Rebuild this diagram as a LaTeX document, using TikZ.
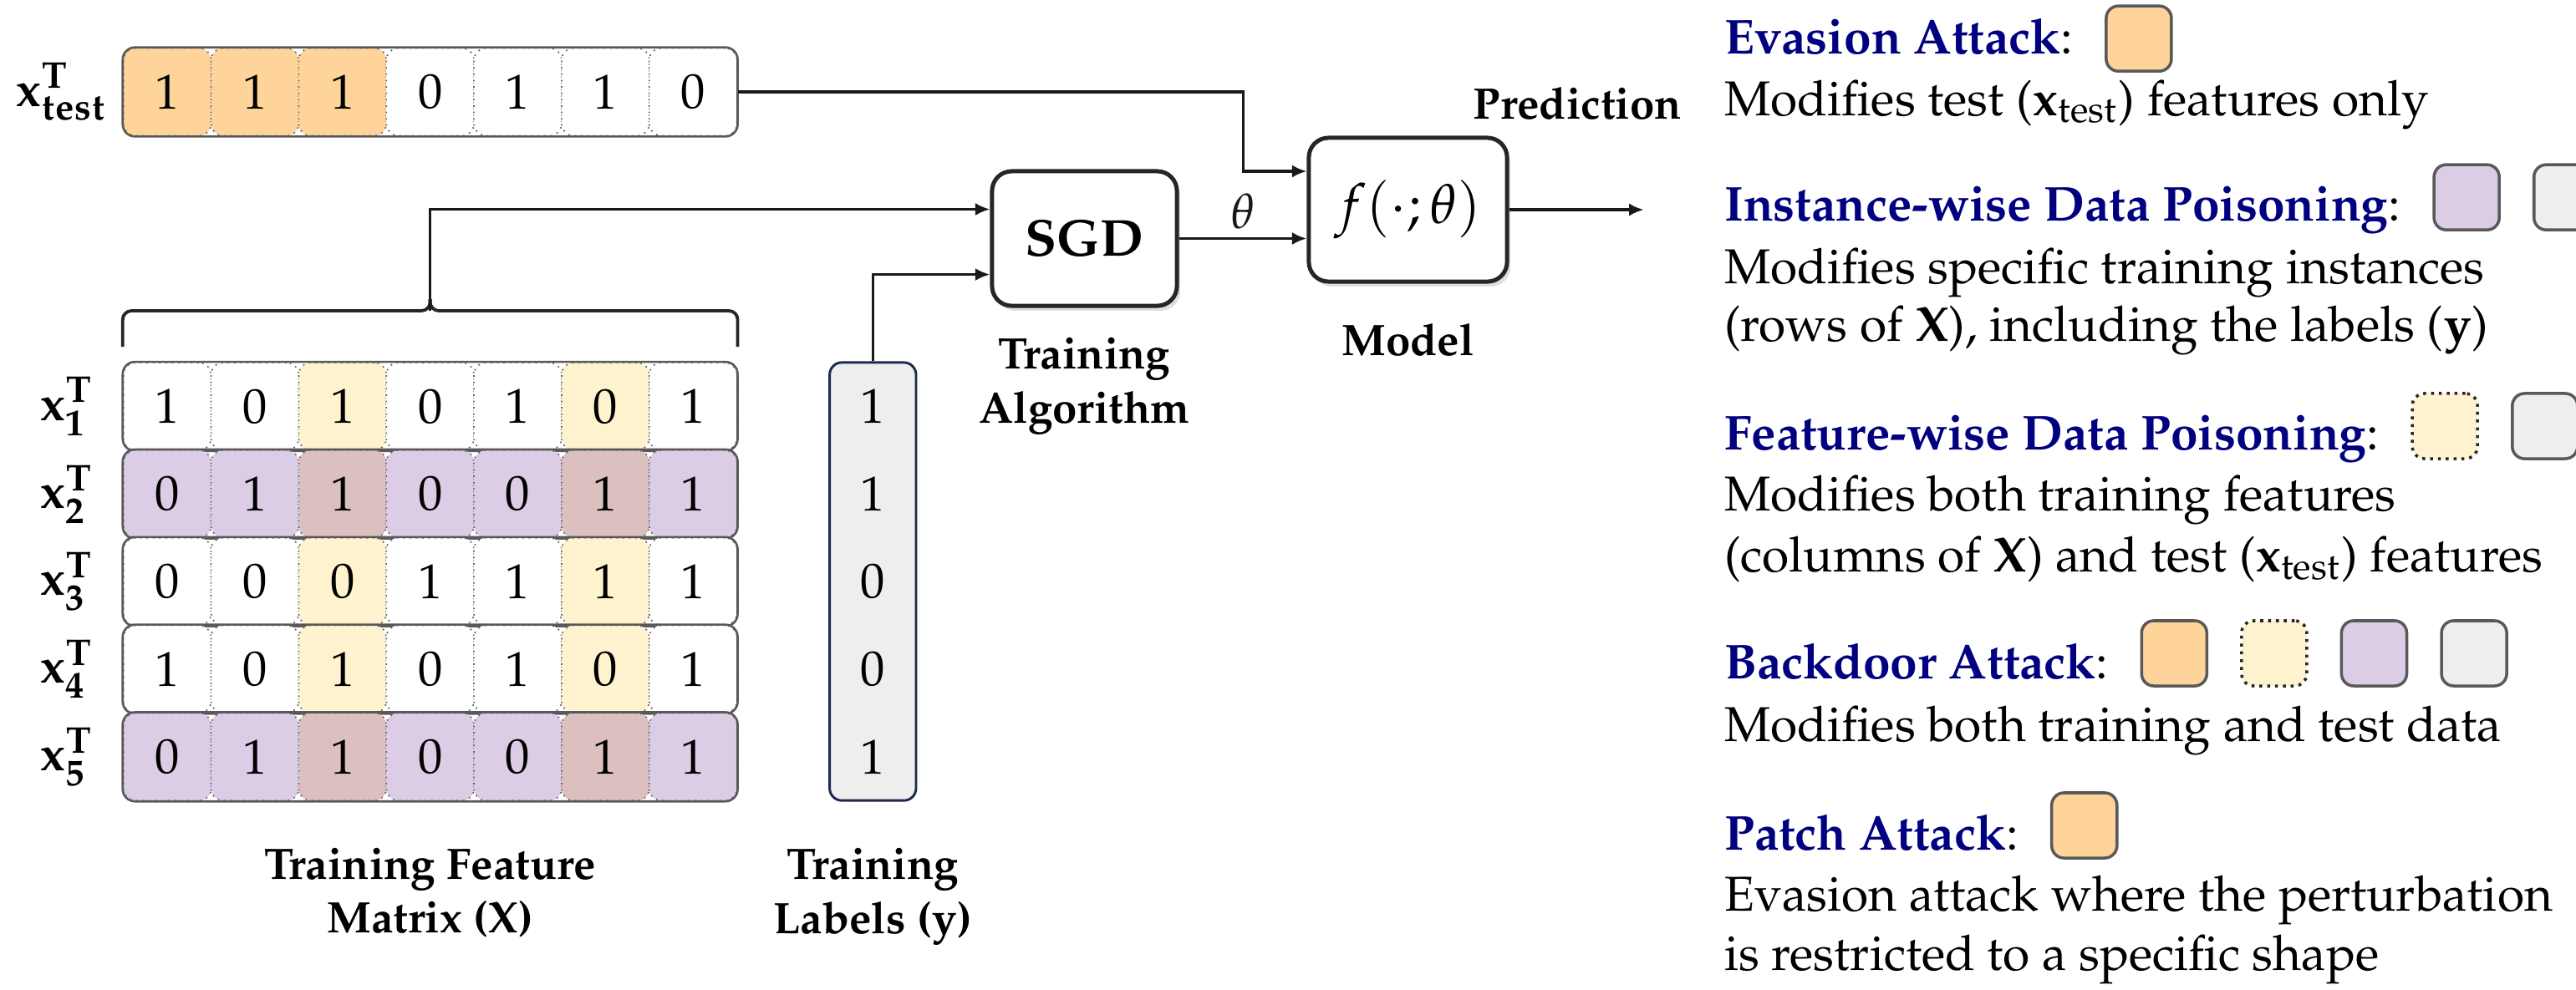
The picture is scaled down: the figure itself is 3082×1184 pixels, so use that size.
\documentclass[tikz,border=0pt]{standalone}
\usepackage[T1]{fontenc}
\usepackage{mathpazo}
\usepackage{tikz}
\definecolor{navyhead}{RGB}{0,0,128}
\definecolor{evorange}{RGB}{255,212,155}
\definecolor{featyellow}{RGB}{255,242,206}
\definecolor{instpurple}{RGB}{219,205,230}
\definecolor{mixbrown}{RGB}{220,192,192}
\definecolor{labgray}{RGB}{238,238,238}
\definecolor{labedge}{RGB}{30,40,80}
\usetikzlibrary{positioning,arrows.meta,shadows}
\newcommand{\atkname}[1]{\textcolor{navyhead}{\textbf{#1}}:}

\begin{document}
\begin{tikzpicture}[
  x=0.006cm, y=-0.006cm,
  cell/.style={draw=black!60, densely dotted, line width=0.3pt, rounded corners=2.5pt, minimum size=0.629cm, inner sep=0pt},
  rowline/.style={draw=black!65, line width=0.45pt, rounded corners=2.5pt},
  block/.style={draw=black!85, line width=0.85pt, rounded corners=4pt, fill=white, drop shadow={opacity=0.25, shadow xshift=0.7pt, shadow yshift=-1pt}},
  lbl/.style={font=\small\bfseries, align=center, inner sep=0pt},
  rowlbl/.style={inner sep=0pt, font=\boldmath},
  arr/.style={-{Latex[length=3pt,width=2.6pt]}, line width=0.6pt, black!90},
  bracel/.style={line width=0.65pt, black!85, rounded corners=1.8pt},
  desc/.style={anchor=base west, inner sep=0pt},
  swatch/.style={draw=black!65, line width=0.6pt, rounded corners=2.5pt, minimum size=0.468cm, inner sep=0pt},
  dotswatch/.style={swatch, draw=black!85, densely dotted, fill=featyellow}
]
\useasboundingbox (0,0) rectangle (3082,1184);

\foreach \v [count=\c] in {1,1,1,0,1,1,0} {
  \pgfmathsetmacro\cx{147.7+(\c-0.5)*104.85}
  \ifnum\c<4 \def\cf{evorange}\else\def\cf{white}\fi
  \node[cell, fill=\cf] (test-\c) at (\cx,110) {\v};
}
\draw[rowline] (test-1.north west) rectangle (test-7.south east);
\node[rowlbl, left=0.1cm of test-1] (xtest) {$\mathbf{x}^{\mathbf{T}}_{\mathbf{test}}$};

\foreach \row [count=\r] in {{1,0,1,0,1,0,1},{0,1,1,0,0,1,1},{0,0,0,1,1,1,1},{1,0,1,0,1,0,1},{0,1,1,0,0,1,1}} {
  \pgfmathsetmacro\cy{434+(\r-0.5)*104.85}
  \foreach \v [count=\c] in \row {
    \pgfmathsetmacro\cx{147.7+(\c-0.5)*104.85}
    \pgfmathtruncatemacro\k{2*or(\r==2,\r==5)+or(\c==3,\c==6)}
    \edef\cf{\ifcase\k white\or featyellow\or instpurple\or mixbrown\fi}
    \node[cell, fill=\cf] (cell-\r-\c) at (\cx,\cy) {\v};
  }
  \draw[rowline] (cell-\r-1.north west) rectangle (cell-\r-7.south east);
  \node[rowlbl, left=0.2cm of cell-\r-1] (xrow-\r) {$\mathbf{x}^{\mathbf{T}}_{\r}$};
}

\node[draw=labedge, line width=0.5pt, fill=labgray, rounded corners=2.5pt, minimum width=0.62cm, minimum height=3.144cm, inner sep=0pt] (labvec) at (1044.3,696) {};
\foreach \v [count=\r] in {1,1,0,0,1}
  \node (lab-\r) at (labvec.center |- cell-\r-1) {\v};

\coordinate (btip) at (514.6,372);
\draw[bracel] ([yshift=0.108cm]cell-1-1.north west) |- (btip) -- ++(0,-14);
\draw[bracel] ([yshift=0.108cm]cell-1-7.north east) |- (btip) -- ++(0,-14);

\node[block, minimum width=1.326cm, minimum height=0.966cm, font=\fontsize{10.6}{12}\selectfont\bfseries] (sgd) at (1297.5,285.5) {SGD};
\node[block, minimum width=1.422cm, minimum height=1.032cm, font=\fontsize{11.3}{13}\selectfont] (model) at (1684.5,251) {$f(\cdot;\theta)$};

\draw[arr] (btip) |- ([yshift=0.21cm]sgd.west);
\draw[arr] (labvec.north) |- ([yshift=-0.258cm]sgd.west);
\draw[arr] (sgd.east) -- node[above, inner sep=1.7pt] (theta) {$\theta$} (sgd.east -| model.west);
\coordinate (tbend) at (1487.4,110);
\draw[arr] (test-7.east) -- (tbend) |- ([yshift=0.276cm]model.west);
\coordinate (pred-out) at (1966.7,251);
\draw[arr] (model.east) -- (pred-out);

\node[lbl, below=0.21cm of sgd] (sgd-lbl) {Training\\Algorithm};
\node[lbl, below=0.28cm of model] (model-lbl) {Model};
\node[lbl, anchor=north east] (pred) at (2013,103) {Prediction};
\node[lbl, below=0.33cm of cell-5-4] (mat-lbl) {Training Feature\\Matrix ($\mathbf{X}$)};
\node[lbl, below=0.33cm of labvec] (vec-lbl) {Training\\Labels ($\mathbf{y}$)};

\node[desc] (ev-head) at (2062,64.5) {\atkname{Evasion Attack}};
\node[swatch, fill=evorange, right=0.222cm of ev-head.base east, yshift=0.11cm] (ev-sw1) {};
\node[desc] (ev-d1) at (2062,138) {Modifies test ($\mathbf{x}_{\mathrm{test}}$) features only};

\node[desc] (in-head) at (2062,264.5) {\atkname{Instance-wise Data Poisoning}};
\node[swatch, fill=instpurple, right=0.222cm of in-head.base east, yshift=0.17cm] (in-sw1) {};
\node[swatch, fill=labgray, right=0.228cm of in-sw1] (in-sw2) {};
\node[desc] (in-d1) at (2062,339) {Modifies specific training instances};
\node[desc] (in-d2) at (2062,408.7) {(rows of $\mathbf{X}$), including the labels ($\mathbf{y}$)};

\node[desc] (fe-head) at (2062,538) {\atkname{Feature-wise Data Poisoning}};
\node[dotswatch, right=0.222cm of fe-head.base east, yshift=0.168cm] (fe-sw1) {};
\node[swatch, fill=labgray, right=0.228cm of fe-sw1] (fe-sw2) {};
\node[desc] (fe-d1) at (2062,611) {Modifies both training features};
\node[desc] (fe-d2) at (2062,684.5) {(columns of $\mathbf{X}$) and test ($\mathbf{x}_{\mathrm{test}}$) features};

\node[desc] (bd-head) at (2062,812) {\atkname{Backdoor Attack}};
\node[swatch, fill=evorange, right=0.222cm of bd-head.base east, yshift=0.18cm] (bd-sw1) {};
\node[dotswatch, right=0.228cm of bd-sw1] (bd-sw2) {};
\node[swatch, fill=instpurple, right=0.228cm of bd-sw2] (bd-sw3) {};
\node[swatch, fill=labgray, right=0.228cm of bd-sw3] (bd-sw4) {};
\node[desc] (bd-d1) at (2062,887) {Modifies both training and test data};

\node[desc] (pa-head) at (2062,1017) {\atkname{Patch Attack}};
\node[swatch, fill=evorange, right=0.222cm of pa-head.base east, yshift=0.174cm] (pa-sw1) {};
\node[desc] (pa-d1) at (2062,1090) {Evasion attack where the perturbation};
\node[desc] (pa-d2) at (2062,1161) {is restricted to a specific shape};
\end{tikzpicture}
\end{document}
